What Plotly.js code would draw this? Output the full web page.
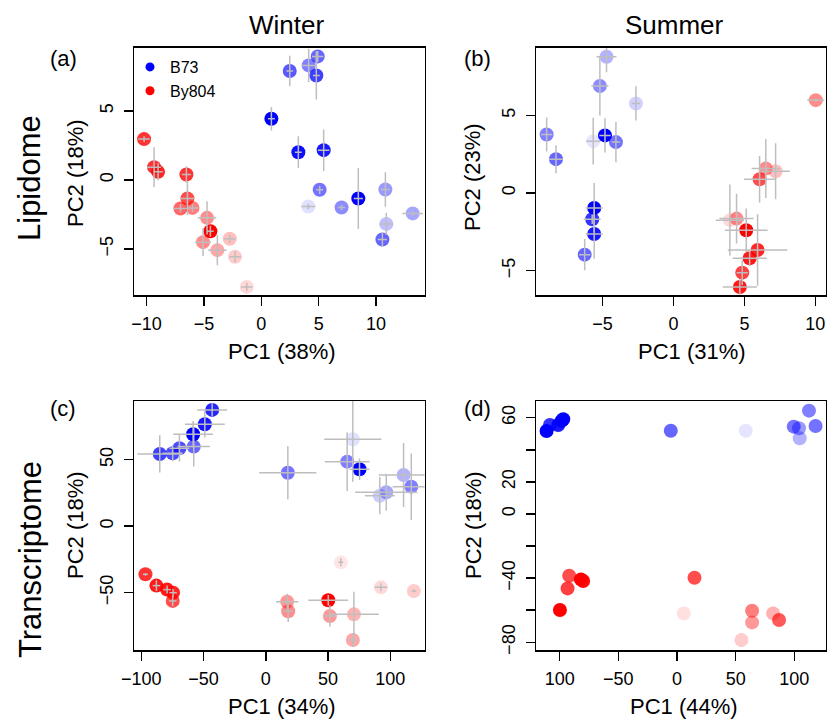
<!DOCTYPE html>
<html><head><meta charset="utf-8">
<script src="https://cdn.plot.ly/plotly-3.0.1.min.js"></script>
<style>html,body{margin:0;padding:0;background:#fff}</style>
</head><body><div id="chart" style="width:827px;height:719px"></div>
<script>
// ---------- (a) Lipidome, Winter ----------
const aB73X  = [2.48, 4.13, 4.92, 4.80, 0.88, 3.23, 5.44, 5.09, 4.10, 7.00, 8.46, 10.82, 10.90, 10.56, 13.20];
const aB73Y  = [7.88, 8.29, 8.94, 7.56, 4.42, 2.00, 2.15, -0.72, -1.93, -2.00, -1.35, -0.70, -3.19, -4.32, -2.43];
const aB73EX = [0.3, 0.6, 0.5, 0.3, 0.3, 0.3, 0.5, 0.3, 0.6, 0.3, 0.4, 0.4, 0.6, 0.4, 0.9];
const aB73EY = [1.1, 1.2, 0.4, 1.75, 0.85, 1.15, 1.5, 0.3, 0.2, 0.2, 2.2, 1.25, 0.8, 0.5, 0.2];
const aB73Shade = [0.65, 0.5, 0.6, 0.75, 1.0, 0.95, 0.9, 0.55, 0.12, 0.45, 1.0, 0.4, 0.25, 0.6, 0.35];
const aBy804X  = [-10.22, -9.35, -9.00, -6.53, -6.44, -7.05, -6.00, -4.73, -4.44, -5.08, -3.83, -2.75, -2.29, -1.27];
const aBy804Y  = [2.95, 0.92, 0.58, 0.39, -1.35, -2.07, -2.03, -2.75, -3.72, -4.51, -5.09, -4.27, -5.57, -7.75];
const aBy804EX = [0.5, 0.6, 0.4, 0.4, 0.6, 0.6, 0.5, 0.8, 0.3, 0.7, 0.8, 0.5, 0.5, 0.5];
const aBy804EY = [0.2, 1.45, 0.6, 0.6, 1.2, 0.3, 0.3, 1.2, 0.4, 1.0, 1.1, 0.3, 0.4, 0.3];
const aBy804Shade = [0.8, 0.8, 0.85, 0.8, 0.7, 0.6, 0.5, 0.45, 1.0, 0.45, 0.35, 0.25, 0.2, 0.15];

// ---------- (b) Lipidome, Summer ----------
const bB73X  = [-8.93, -8.27, -4.71, -5.18, -2.64, -5.65, -4.82, -4.05, -5.58, -5.72, -5.58, -6.25];
const bB73Y  = [3.77, 2.18, 8.78, 6.89, 5.77, 3.34, 3.71, 3.28, -0.96, -1.69, -2.64, -3.97];
const bB73EX = [0.4, 0.5, 0.7, 0.6, 0.3, 0.5, 0.4, 0.3, 0.6, 0.6, 0.6, 0.4];
const bB73EY = [1.1, 0.9, 1.0, 1.9, 1.1, 1.5, 1.1, 1.3, 1.6, 0.3, 1.6, 1.0];
const bB73Shade = [0.5, 0.6, 0.3, 0.45, 0.18, 0.1, 1.0, 0.55, 1.0, 0.8, 0.9, 0.6];
const bBy804X  = [10.03, 6.51, 7.20, 6.07, 3.98, 4.45, 5.13, 5.93, 5.37, 4.85, 4.68];
const bBy804Y  = [5.98, 1.58, 1.40, 0.89, -1.75, -1.65, -2.40, -3.67, -4.20, -5.13, -6.06];
const bBy804EX = [0.6, 1.0, 1.0, 1.1, 1.0, 1.2, 1.5, 2.1, 1.2, 0.4, 1.2];
const bBy804EY = [0.1, 1.9, 1.8, 1.5, 2.3, 1.6, 1.4, 2.3, 0.5, 0.8, 0.5];
const bBy804Shade = [0.45, 0.45, 0.25, 0.7, 0.15, 0.45, 1.0, 0.85, 0.9, 0.75, 0.9];

// ---------- (c) Transcriptome, Winter ----------
const cB73X  = [-85.2, -74.8, -69.4, -57.9, -58.4, -49.0, -43.1, 17.7, 69.9, 65.4, 75.3, 110.7, 116.9, 96.8, 91.6];
const cB73Y  = [54.3, 54.8, 58.6, 59.8, 69.1, 76.6, 87.4, 40.2, 65.3, 48.5, 42.8, 38.5, 29.7, 25.5, 22.9];
const cB73EX = [18, 8, 8, 13, 16, 16, 12, 23, 23, 18, 8, 20, 15, 25, 12];
const cB73EY = [14, 6, 10, 15, 10, 10, 5, 20, 32, 22, 8, 24, 25, 14, 14];
const cB73Shade = [0.75, 0.7, 0.7, 0.6, 1.0, 0.9, 0.85, 0.55, 0.12, 0.5, 1.0, 0.3, 0.5, 0.35, 0.2];
const cBy804X  = [-96.7, -87.9, -79.3, -74.5, -74.8, 17.2, 18.0, 50.2, 51.5, 70.8, 70.0, 60.3, 92.5, 119.0];
const cBy804Y  = [-36.2, -44.7, -47.7, -50.0, -56.2, -56.8, -64.0, -55.7, -67.5, -66.3, -85.6, -27.2, -46.0, -48.7];
const cBy804EX = [2, 3, 3, 3, 3, 9, 4, 16, 5, 20, 4, 2, 5, 2];
const cBy804EY = [1, 4, 3, 3, 4, 6, 8, 4, 8, 17, 5, 3, 3, 1];
const cBy804Shade = [0.8, 0.9, 0.9, 0.85, 0.7, 0.4, 0.45, 1.0, 0.4, 0.3, 0.35, 0.1, 0.15, 0.2];

// ---------- (d) Transcriptome, Summer ----------
const dB73X = [-111.2, -108.3, -101.3, -98.4, -97.0, -5.3, 58.6, 99.5, 104.0, 104.6, 112.5, 118.1];
const dB73Y = [51.7, 55.4, 55.4, 58.0, 59.0, 51.9, 51.9, 54.4, 53.4, 47.2, 64.4, 54.8];
const dB73Shade = [1.0, 0.8, 0.9, 1.0, 1.0, 0.6, 0.1, 0.55, 0.4, 0.3, 0.5, 0.55];
const dBy804X = [-99.8, -93.3, -91.9, -81.9, -80.0, 14.9, 5.8, 64.0, 64.0, 81.9, 87.0, 54.9];
const dBy804Y = [-59.9, -46.4, -38.5, -40.8, -41.8, -39.8, -62.0, -60.3, -67.6, -62.0, -66.1, -78.6];
const dBy804Shade = [1.0, 0.75, 0.7, 1.0, 0.95, 0.7, 0.12, 0.5, 0.4, 0.3, 0.65, 0.2];

// tick labels
const xTickValsA = [-10, -5, 0, 5, 10];
const yTickValsA = [-5, 0, 5];
const xTickValsB = [-5, 0, 5, 10];
const yTickValsB = [-5, 0, 5];
const xTickValsC = [-100, -50, 0, 50, 100];
const yTickValsC = [-50, 0, 50];
const xTickValsD = [-100, -50, 0, 50, 100];
const xTickTextD = ['100', '\u221250', '0', '50', '100'];
const yTickValsD = [-80, -60, -40, -20, 0, 20, 40, 60];
const yTickTextD = ['\u221280', '', '\u221240', '', '0', '20', '', '60'];

const BLUE = '0,0,255', RED = '255,0,0';
const FONT = 'Liberation Sans, Arial, Helvetica, sans-serif';

function markers(xs, ys, shades, base, ax, ay) {
  return {type: 'scatter', mode: 'markers', x: xs, y: ys, xaxis: ax, yaxis: ay,
    marker: {size: 14, color: shades.map(a => 'rgba(' + base + ',' + a + ')'), line: {width: 0}},
    showlegend: false, hoverinfo: 'skip'};
}
function crosses(xs, ys, exs, eys, ax, ay) {
  return {type: 'scatter', mode: 'markers', x: xs, y: ys, xaxis: ax, yaxis: ay,
    marker: {size: 1, color: 'rgba(0,0,0,0)'},
    error_x: {type: 'data', array: exs, visible: true, color: '#bebebe', thickness: 1.5, width: 0},
    error_y: {type: 'data', array: eys, visible: true, color: '#bebebe', thickness: 1.5, width: 0},
    showlegend: false, hoverinfo: 'skip'};
}

const data = [
  markers(aB73X, aB73Y, aB73Shade, BLUE, 'x', 'y'),
  markers(aBy804X, aBy804Y, aBy804Shade, RED, 'x', 'y'),
  crosses(aB73X, aB73Y, aB73EX, aB73EY, 'x', 'y'),
  crosses(aBy804X, aBy804Y, aBy804EX, aBy804EY, 'x', 'y'),
  markers(bB73X, bB73Y, bB73Shade, BLUE, 'x2', 'y2'),
  markers(bBy804X, bBy804Y, bBy804Shade, RED, 'x2', 'y2'),
  crosses(bB73X, bB73Y, bB73EX, bB73EY, 'x2', 'y2'),
  crosses(bBy804X, bBy804Y, bBy804EX, bBy804EY, 'x2', 'y2'),
  markers(cB73X, cB73Y, cB73Shade, BLUE, 'x3', 'y3'),
  markers(cBy804X, cBy804Y, cBy804Shade, RED, 'x3', 'y3'),
  crosses(cB73X, cB73Y, cB73EX, cB73EY, 'x3', 'y3'),
  crosses(cBy804X, cBy804Y, cBy804EX, cBy804EY, 'x3', 'y3'),
  markers(dB73X, dB73Y, dB73Shade, BLUE, 'x4', 'y4'),
  markers(dBy804X, dBy804Y, dBy804Shade, RED, 'x4', 'y4'),
  {type: 'scatter', mode: 'markers', name: 'B73', x: [null], y: [null], xaxis: 'x', yaxis: 'y',
   marker: {size: 9, color: 'rgb(0,0,255)'}, showlegend: true},
  {type: 'scatter', mode: 'markers', name: 'By804', x: [null], y: [null], xaxis: 'x', yaxis: 'y',
   marker: {size: 9, color: 'rgb(255,0,0)'}, showlegend: true}
];

const W = 827, H = 719;
const px = v => v / W, py = v => 1 - v / H;

function xax(domain, range, anchor, tickvals, ticktext) {
  const o = {domain: domain, range: range, anchor: anchor, tickmode: 'array', tickvals: tickvals,
    showgrid: false, zeroline: false, showline: true, mirror: true, linecolor: '#000', linewidth: 1.5,
    ticks: 'outside', ticklen: 9, tickwidth: 1.5, tickcolor: '#000',
    tickfont: {family: FONT, size: 18, color: '#000'}, ticklabelstandoff: 3};
  if (ticktext) o.ticktext = ticktext;
  return o;
}
function yax(domain, range, anchor, tickvals, ticktext) {
  const o = xax(domain, range, anchor, tickvals, ticktext);
  o.tickangle = -90;
  return o;
}

const dA = [px(134), px(424.6)], dB = [px(536), px(826)];
const dTop = [py(295.3), py(47.7)], dBot = [py(650), py(401)];

function ann(text, x, y, size, angle) {
  return {text: text, x: px(x), y: py(y), xref: 'paper', yref: 'paper', showarrow: false,
    xanchor: 'center', yanchor: 'middle', textangle: angle || 0,
    font: {family: FONT, size: size, color: '#000'}};
}

const layout = {
  width: W, height: H, margin: {l: 0, r: 0, t: 0, b: 0},
  paper_bgcolor: '#fff', plot_bgcolor: '#fff',
  font: {family: FONT, color: '#000'},
  xaxis: xax(dA, [-11.1, 14.24], 'y', xTickValsA), yaxis: yax(dTop, [-8.36, 9.57], 'x', yTickValsA),
  xaxis2: xax(dB, [-9.68, 10.75], 'y2', xTickValsB), yaxis2: yax(dTop, [-6.59, 9.36], 'x2', yTickValsB),
  xaxis3: xax(dA, [-105.9, 127.6], 'y3', xTickValsC), yaxis3: yax(dBot, [-93.1, 94.1], 'x3', yTickValsC),
  xaxis4: xax(dB, [-120.2, 127], 'y4', xTickValsD, xTickTextD), yaxis4: yax(dBot, [-84.8, 70.4], 'x4', yTickValsD, yTickTextD),
  showlegend: true,
  legend: {x: px(130), y: py(50), xanchor: 'left', yanchor: 'top', bgcolor: 'rgba(0,0,0,0)',
    borderwidth: 0, font: {family: FONT, size: 16, color: '#000'}, itemsizing: 'trace', tracegroupgap: 0},
  annotations: [
    ann('Winter', 286, 25, 26), ann('Summer', 674.5, 25, 26),
    ann('Lipidome', 30, 178, 31, -90), ann('Transcriptome', 30, 560, 31, -90),
    ann('(a)', 63, 58, 22), ann('(b)', 477, 58, 22), ann('(c)', 63, 408, 22), ann('(d)', 477, 408, 22),
    ann('PC1 (38%)', 281.5, 351, 22), ann('PC1 (31%)', 691.7, 351, 22),
    ann('PC1 (34%)', 281.5, 706, 22), ann('PC1 (44%)', 684, 706, 22),
    ann('PC2 (18%)', 75, 173, 22, -90), ann('PC2 (23%)', 473, 177, 22, -90),
    ann('PC2 (18%)', 75, 525, 22, -90), ann('PC2 (18%)', 473, 525, 22, -90)
  ]
};

Plotly.newPlot('chart', data, layout, {displayModeBar: false, staticPlot: true});
</script></body></html>
